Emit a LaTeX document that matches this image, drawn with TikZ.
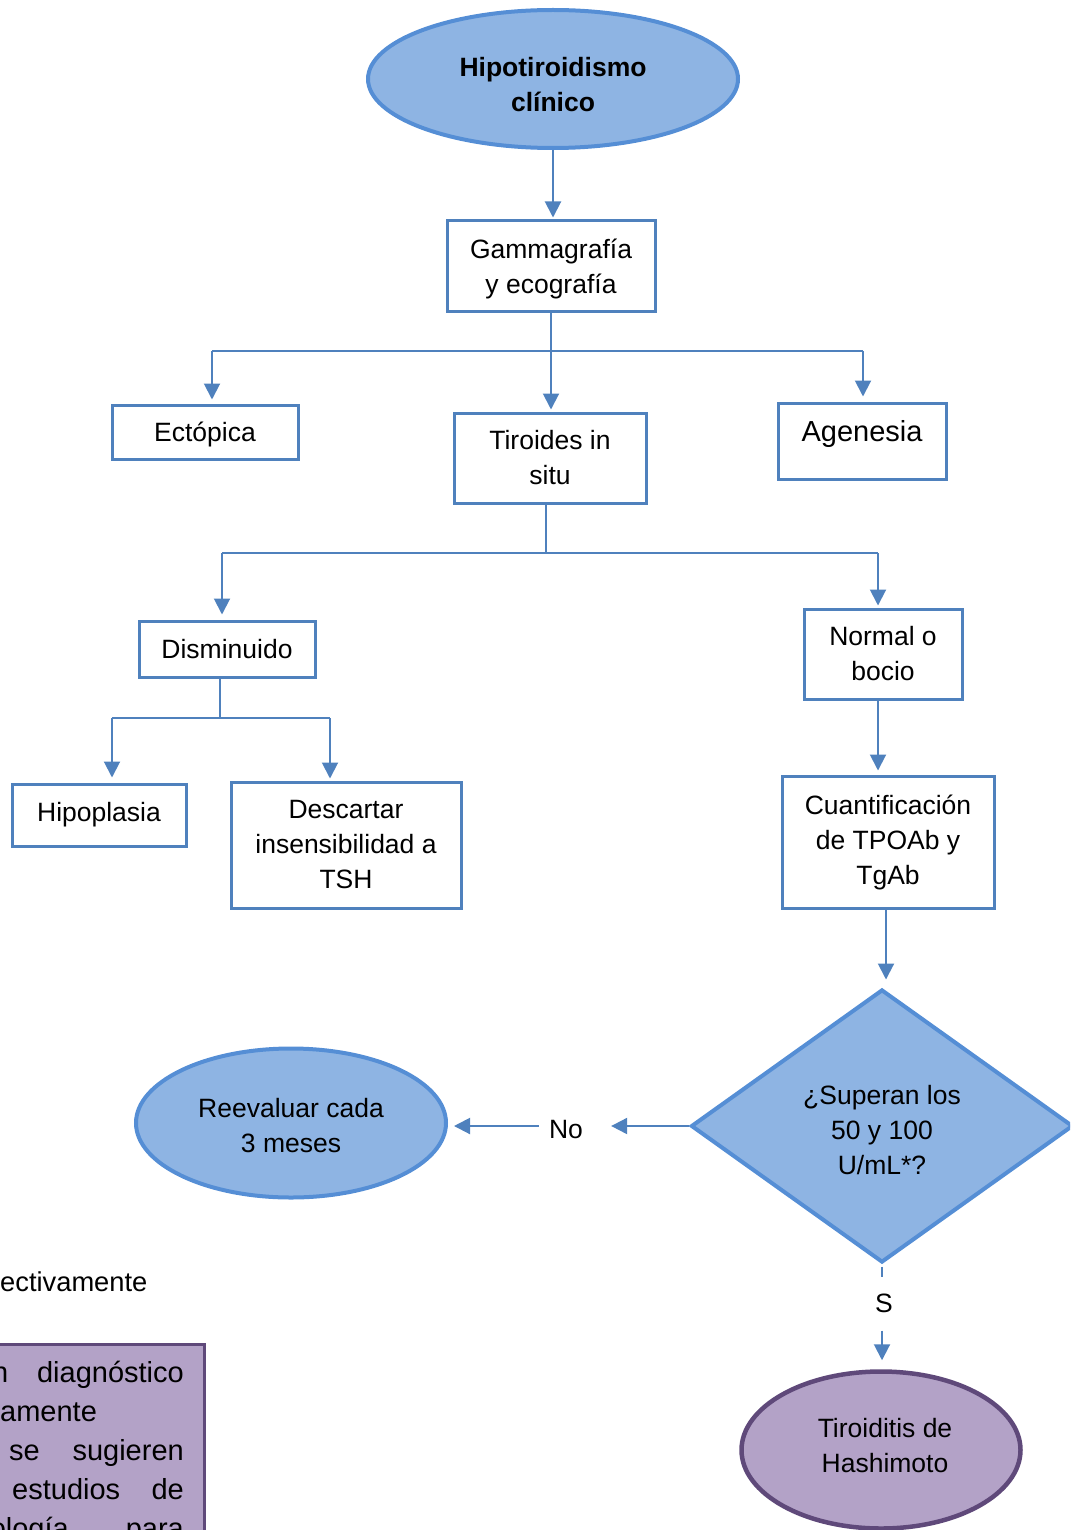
\documentclass[tikz,border=0pt]{standalone}
\usepackage{fontspec}
\setmainfont{Liberation Sans}
\usetikzlibrary{shapes.geometric,arrows.meta}
\definecolor{boxblue}{HTML}{4F81BD}
\definecolor{ellborder}{HTML}{558ED5}
\definecolor{ellfill}{HTML}{8EB4E3}
\definecolor{purfill}{HTML}{B3A2C7}
\definecolor{purborder}{HTML}{5F497A}
\newcommand\mainfs{\fontsize{26.5}{35}\selectfont}
\newcommand\notefs{\fontsize{29}{39}\selectfont}
\tikzset{
  stepbox/.style={draw=boxblue, line width=3pt, rectangle, inner sep=0pt, align=center, font=\mainfs},
  blueell/.style={ellipse, draw=ellborder, fill=ellfill, line width=4pt, inner sep=0pt},
  purell/.style={ellipse, draw=purborder, fill=purfill, line width=4.5pt, inner sep=0pt},
  conn/.style={draw=boxblue, line width=2pt},
  arr/.style={conn, -{Triangle[length=16pt,width=16pt]}},
  lbl/.style={inner sep=0pt, font=\mainfs, align=center},
  noteword/.style={inner sep=0pt, font=\notefs},
}
\begin{document}
\begin{tikzpicture}[x=1pt,y=-1pt]
\useasboundingbox (0,0) rectangle (1070,1530);
\clip (0,0) rectangle (1070,1530);

% shapes
\node[blueell, minimum width=370pt, minimum height=138pt] (hipo) at (553,79) {};
\node[lbl, font=\mainfs\bfseries, yshift=-6pt] (hipotxt) at (hipo) {Hipotiroidismo\\clínico};
\node[stepbox, minimum width=208pt, minimum height=90pt, text depth=0pt] (gam) at (551,266) {Gammagrafía\\y ecografía};
\node[stepbox, minimum width=186pt, minimum height=54pt, text depth=0pt] (ect) at (205,432) {Ectópica};
\node[stepbox, minimum width=192pt, minimum height=90pt] (tir) at (550,458) {Tiroides in\\situ};
\node[stepbox, minimum width=168pt, minimum height=76pt, font=\fontsize{29}{35}\selectfont, text depth=20pt] (age) at (862,441) {Agenesia};
\node[stepbox, minimum width=176pt, minimum height=56pt] (dis) at (227,649) {Disminuido};
\node[stepbox, minimum width=158pt, minimum height=90pt] (nor) at (883,654) {Normal o\\bocio};
\node[stepbox, minimum width=174pt, minimum height=62pt] (hpl) at (99,815) {Hipoplasia};
\node[stepbox, minimum width=230pt, minimum height=126pt] (des) at (346,845) {Descartar\\insensibilidad a\\TSH};
\node[stepbox, minimum width=212pt, minimum height=132pt] (cua) at (888,842) {Cuantificación\\de TPOAb y\\TgAb};
\node[diamond, draw=ellborder, fill=ellfill, line width=4pt, aspect=1.4, minimum width=382pt, minimum height=273pt, inner sep=0pt] (sup) at (882,1126) {};
\node[lbl, yshift=-4pt] (suptxt) at (sup) {¿Superan los\\50 y 100\\U/mL*?};
\node[blueell, minimum width=310pt, minimum height=149pt] (ree) at (291,1123) {};
\node[lbl, yshift=-3pt] (reetxt) at (ree) {Reevaluar cada\\3 meses};
\node[purell, minimum width=279pt, minimum height=157pt] (has) at (881,1450) {};
\node[lbl, yshift=4pt] (hastxt) at (885,1450) {Tiroiditis de\\Hashimoto};
\node[lbl] (no) at (566,1129) {No};
\node[lbl] (si) at (884,1303) {S};

% note box (cut by the page edge, as in the reference)
\node[draw=purborder, fill=purfill, line width=3pt, minimum width=240pt, minimum height=220pt, anchor=north east] (note) at (206,1343) {};
\node[noteword, anchor=base west] (w1) at (-8,1382) {n};
\node[noteword, anchor=base east] (w2) at (184,1382) {diagnóstico};
\node[noteword, anchor=base west] (w3) at (0,1421) {amente};
\node[noteword, anchor=base west] (w4) at (9,1460) {se};
\node[noteword, anchor=base east] (w5) at (184,1460) {sugieren};
\node[noteword, anchor=base west] (w6) at (12,1499) {estudios};
\node[noteword, anchor=base east] (w7) at (184,1499) {de};
\node[noteword, anchor=base east] (w8) at (69,1538) {ología};
\node[noteword, anchor=base east] (w9) at (184,1538) {para};
\node[inner sep=0pt, font=\fontsize{27.3}{35}\selectfont, anchor=base west] (resp) at (0,1291) {ectivamente};

% connectors
\draw[arr, shorten >=2pt] (hipo.south) -- (hipo.south |- gam.north);
\draw[arr, shorten >=2pt] (gam.south) -- (gam.south |- tir.north);
\coordinate (l1) at (212,351);
\coordinate (r1) at (863,351);
\draw[conn] (l1) -- (r1);
\draw[arr, shorten >=4pt] (l1) -- (l1 |- ect.north);
\draw[arr, shorten >=5pt] (r1) -- (r1 |- age.north);

\coordinate (t2) at (546,553);
\coordinate (l2) at (222,553);
\coordinate (r2) at (878,553);
\draw[conn] (t2 |- tir.south) -- (t2);
\draw[conn] (l2) -- (r2);
\draw[arr, shorten >=5pt] (l2) -- (l2 |- dis.north);
\draw[arr, shorten >=2pt] (r2) -- (r2 |- nor.north);

\coordinate (d3) at (220,718);
\coordinate (l3) at (112,718);
\coordinate (r3) at (330,718);
\draw[conn] (d3 |- dis.south) -- (d3);
\draw[conn] (l3) -- (r3);
\draw[arr, shorten >=5pt] (l3) -- (l3 |- hpl.north);
\draw[arr, shorten >=2pt] (r3) -- (r3 |- des.north);

\coordinate (n4) at (878,740);
\draw[arr, shorten >=4pt] (n4 |- nor.south) -- (n4 |- cua.north);
\coordinate (c5) at (886,950);
\draw[arr, shorten >=8pt] (c5 |- cua.south) -- (c5 |- sup.north);

\draw[arr, shorten >=28pt] (sup.west) -- (sup.west -| no.east);
\draw[arr, shorten <=10pt, shorten >=6pt] (sup.west -| no.west) -- (sup.west -| ree.east);
\draw[conn, shorten <=2pt, shorten >=16pt] (sup.south) -- (sup.south |- si.north);
\draw[arr, shorten <=18pt, shorten >=9pt] (sup.south |- si.south) -- (sup.south |- has.north);
\end{tikzpicture}
\end{document}
